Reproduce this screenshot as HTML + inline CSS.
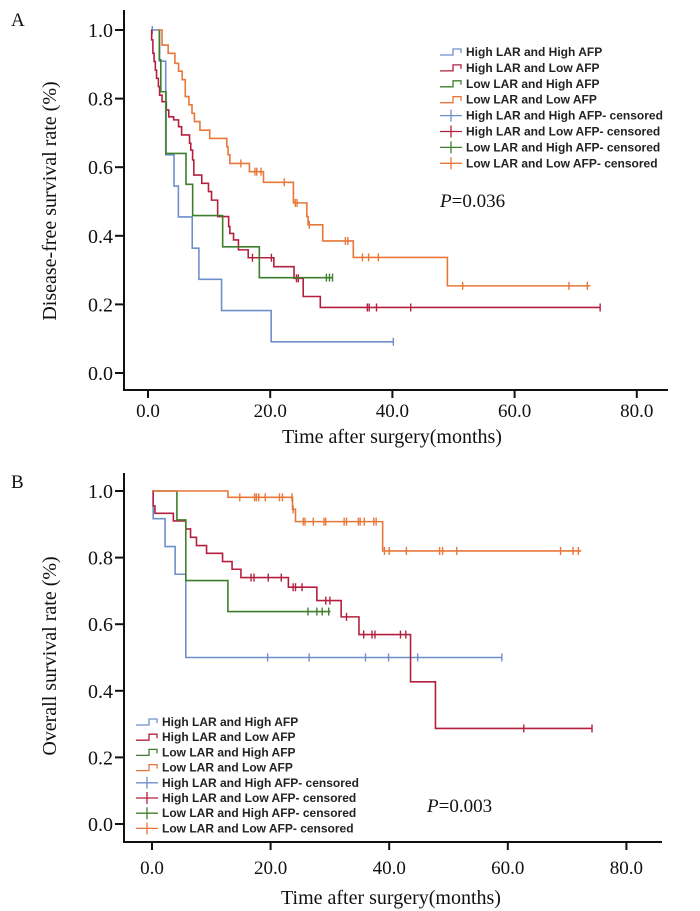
<!DOCTYPE html>
<html><head><meta charset="utf-8"><style>
html,body{margin:0;padding:0;background:#fff;}
svg{display:block;}
text{font-family:"Liberation Serif",serif;fill:#111;}
.lg{font-family:"Liberation Sans",sans-serif;font-weight:bold;font-size:12px;fill:#222;}
</style></head><body>
<svg id="chart" width="700" height="911" viewBox="0 0 700 911" xmlns="http://www.w3.org/2000/svg">
<text x="11" y="26" font-size="19">A</text>
<text x="11" y="488" font-size="19">B</text>
<text transform="translate(56,201) rotate(-90)" text-anchor="middle" font-size="20">Disease-free survival rate (%)</text>
<text transform="translate(56,656) rotate(-90)" text-anchor="middle" font-size="20">Overall survival rate (%)</text>
<text x="392" y="443" text-anchor="middle" font-size="20">Time after surgery(months)</text>
<text x="391" y="904" text-anchor="middle" font-size="20">Time after surgery(months)</text>
<text x="440" y="207" font-size="19"><tspan font-style="italic">P</tspan>=0.036</text>
<text x="427" y="812" font-size="19"><tspan font-style="italic">P</tspan>=0.003</text>
<g id="layer"></g>
</svg>
<script>
// ---- Data ----
const xTicks = [0, 20, 40, 60, 80];
const xTickLabels = ["0.0", "20.0", "40.0", "60.0", "80.0"];
const yTicks = [0, 0.2, 0.4, 0.6, 0.8, 1.0];
const yTickLabels = ["0.0", "0.2", "0.4", "0.6", "0.8", "1.0"];
const seriesNames = ["High LAR and High AFP", "High LAR and Low AFP", "Low LAR and High AFP", "Low LAR and Low AFP"];

// Panel A (disease-free survival)
const aBlueT = [1.9, 2.9, 4.26, 4.97, 7.24, 8.33, 12.04, 20.16];
const aBlueS = [0.909, 0.636, 0.545, 0.455, 0.364, 0.273, 0.182, 0.091];
const aBlueC = [0.7, 40.15];
const aBlueEnd = 40.15;
const aRedT = [0.6, 0.8, 1.0, 1.2, 1.4, 1.7, 1.9, 2.3, 3.0, 3.4, 4.2, 5.0, 5.5, 6.8, 7.0, 7.3, 7.5, 8.8, 9.9, 10.4, 11.4, 13.2, 13.4, 14.0, 14.8, 16.4, 20.6, 23.9, 25.4, 28.2];
const aRedS = [0.971, 0.932, 0.908, 0.883, 0.859, 0.835, 0.810, 0.791, 0.767, 0.747, 0.738, 0.718, 0.694, 0.670, 0.650, 0.621, 0.577, 0.553, 0.529, 0.504, 0.456, 0.427, 0.407, 0.388, 0.359, 0.336, 0.310, 0.276, 0.223, 0.191];
const aRedC = [17.1, 20.2, 24.3, 24.6, 35.9, 36.2, 37.4, 43.0, 74.0];
const aRedEnd = 74.0;
const aGreenT = [1.85, 2.1, 2.95, 6.22, 7.31, 12.22, 18.22];
const aGreenS = [0.913, 0.82, 0.640, 0.550, 0.459, 0.368, 0.278];
const aGreenC = [29.2, 29.7, 30.2];
const aGreenEnd = 30.2;
const aOrangeT = [2.3, 3.3, 4.4, 5.0, 5.6, 6.1, 6.7, 7.2, 7.6, 8.5, 10.1, 12.9, 13.1, 13.4, 16.6, 18.9, 23.8, 26.0, 26.2, 28.6, 33.6, 49.0];
const aOrangeS = [0.956, 0.932, 0.903, 0.88, 0.855, 0.806, 0.782, 0.757, 0.733, 0.708, 0.684, 0.660, 0.636, 0.611, 0.587, 0.556, 0.496, 0.456, 0.432, 0.385, 0.337, 0.254];
const aOrangeC = [15.2, 17.5, 17.8, 18.5, 22.3, 24.1, 24.4, 26.4, 32.3, 32.7, 35.1, 36.1, 37.7, 51.5, 68.9, 71.9];
const aOrangeEnd = 72.4;

// Panel B (overall survival)
const bBlueT = [0.2, 2.2, 3.9, 5.7];
const bBlueS = [0.917, 0.833, 0.75, 0.5];
const bBlueC = [19.5, 26.5, 36.0, 39.9, 44.8, 59.0];
const bBlueEnd = 59.0;
const bRedT = [0.2, 0.5, 3.6, 5.7, 6.5, 7.5, 9.2, 11.9, 13.5, 15.0, 23.0, 27.8, 31.9, 34.9, 43.6, 47.8];
const bRedS = [0.955, 0.933, 0.91, 0.886, 0.861, 0.836, 0.813, 0.788, 0.765, 0.740, 0.711, 0.671, 0.622, 0.569, 0.427, 0.287];
const bRedC = [16.7, 17.2, 19.6, 21.8, 23.8, 24.2, 25.3, 29.3, 30.0, 32.8, 35.7, 37.1, 37.6, 41.9, 42.8, 62.7, 74.2];
const bRedEnd = 74.2;
const bGreenT = [4.2, 5.7, 12.8];
const bGreenS = [0.913, 0.731, 0.638];
const bGreenC = [26.3, 27.8, 28.7, 29.8];
const bGreenEnd = 30.1;
const bOrangeT = [12.8, 23.7, 24.2, 38.9];
const bOrangeS = [0.981, 0.945, 0.908, 0.820];
const bOrangeC = [14.8, 17.3, 17.6, 18.0, 19.1, 21.5, 22.0, 23.6, 23.8, 25.5, 25.8, 27.2, 29.0, 29.3, 32.4, 32.8, 34.8, 35.1, 35.8, 37.4, 37.8, 39.2, 40.0, 42.9, 48.5, 49.0, 51.4, 68.9, 71.0, 71.9];
const bOrangeEnd = 72.4;

const colors = ["#6f8fcb", "#b3203f", "#3f7f2c", "#e8773a"];
const NS = "http://www.w3.org/2000/svg";
const layer = document.getElementById("layer");

function mk(tag, attrs, parent) {
  const e = document.createElementNS(NS, tag);
  for (const k in attrs) e.setAttribute(k, attrs[k]);
  (parent || layer).appendChild(e);
  return e;
}

const panels = [
  { key: "a", x0: 148, ppm: 6.11, y1: 30, y0: 373, axX: 124, axTop: 10, axY: 390, axRight: 668, tickLabY: 417,
    series: [[aBlueT, aBlueS, aBlueC, aBlueEnd, 0.6], [aRedT, aRedS, aRedC, aRedEnd, 0.5], [aGreenT, aGreenS, aGreenC, aGreenEnd, 1.6], [aOrangeT, aOrangeS, aOrangeC, aOrangeEnd, 1.6]],
    legX: 440, legY: 52, legStep: 15.9 },
  { key: "b", x0: 152, ppm: 5.93, y1: 491, y0: 824, axX: 124, axTop: 473, axY: 842, axRight: 662, tickLabY: 874,
    series: [[bBlueT, bBlueS, bBlueC, bBlueEnd, 0], [bRedT, bRedS, bRedC, bRedEnd, 0], [bGreenT, bGreenS, bGreenC, bGreenEnd, 0], [bOrangeT, bOrangeS, bOrangeC, bOrangeEnd, 0]],
    legX: 136, legY: 722, legStep: 15.2 }
];

panels.forEach(function (p) {
  const xs = function (t) { return p.x0 + t * p.ppm; };
  const ys = function (s) { return p.y0 - s * (p.y0 - p.y1); };
  const g = mk("g", {});
  
  
  const ya = mk("line", { x1: p.axX, y1: p.axTop, x2: p.axX, y2: p.axY + 1, stroke: "#111", "stroke-width": 2 }, g);
  
  
  const xa = mk("line", { x1: p.axX - 1, y1: p.axY, x2: p.axRight, y2: p.axY, stroke: "#111", "stroke-width": 2 }, g);
  
  
  yTicks.forEach(function (v, i) {
    const tk = mk("line", { x1: p.axX - 9, y1: ys(v), x2: p.axX, y2: ys(v), stroke: "#111", "stroke-width": 2 }, g);
    
    
    const tl = mk("text", { x: p.axX - 11, y: ys(v) + 7, "text-anchor": "end", "font-size": 20 }, g);
    tl.textContent = yTickLabels[i];
    
    
  });
  xTicks.forEach(function (v, i) {
    const tk = mk("line", { x1: xs(v), y1: p.axY, x2: xs(v), y2: p.axY + 8, stroke: "#111", "stroke-width": 2 }, g);
    
    
    const tl = mk("text", { x: xs(v), y: p.tickLabY, "text-anchor": "middle", "font-size": 19 }, g);
    tl.textContent = xTickLabels[i];
    
    
  });
  p.series.forEach(function (sr, si) {
    const T = sr[0], S = sr[1], C = sr[2], end = sr[3], start = sr[4];
    let d = "M" + xs(start) + "," + ys(1);
    for (let i = 0; i < T.length; i++) d += " H" + xs(T[i]) + " V" + ys(S[i]);
    d += " H" + xs(end);
    const path = mk("path", { d: d, fill: "none", stroke: colors[si], "stroke-width": 1.6 }, g);
    
    
    C.forEach(function (ct) {
      let s = 1;
      for (let i = 0; i < T.length; i++) if (T[i] <= ct) s = S[i];
      const cm = mk("line", { x1: xs(ct), y1: ys(s) - 4, x2: xs(ct), y2: ys(s) + 4, stroke: colors[si], "stroke-width": 1.4 }, g);
      
      
    });
  });
  const lg = mk("g", {}, g);
  
  
  for (let k = 0; k < 8; k++) {
    const si = k % 4;
    const cy = p.legY + k * p.legStep;
    const lx = p.legX;
    let sym;
    if (k < 4) {
      sym = mk("path", { d: "M" + lx + "," + (cy + 3) + " H" + (lx + 13) + " V" + (cy - 3) + " H" + (lx + 21) + " V" + (cy + 1), fill: "none", stroke: colors[si], "stroke-width": 1.3 }, lg);
    } else {
      sym = mk("path", { d: "M" + lx + "," + cy + " H" + (lx + 22) + " M" + (lx + 11) + "," + (cy - 6) + " V" + (cy + 6), fill: "none", stroke: colors[si], "stroke-width": 1.3 }, lg);
    }
    
    
    const label = seriesNames[si] + (k >= 4 ? "- censored" : "");
    const lt = mk("text", { x: lx + 26, y: cy + 4, "class": "lg" }, lg);
    lt.textContent = label;
    
    
  }
});
</script>
</body></html>
